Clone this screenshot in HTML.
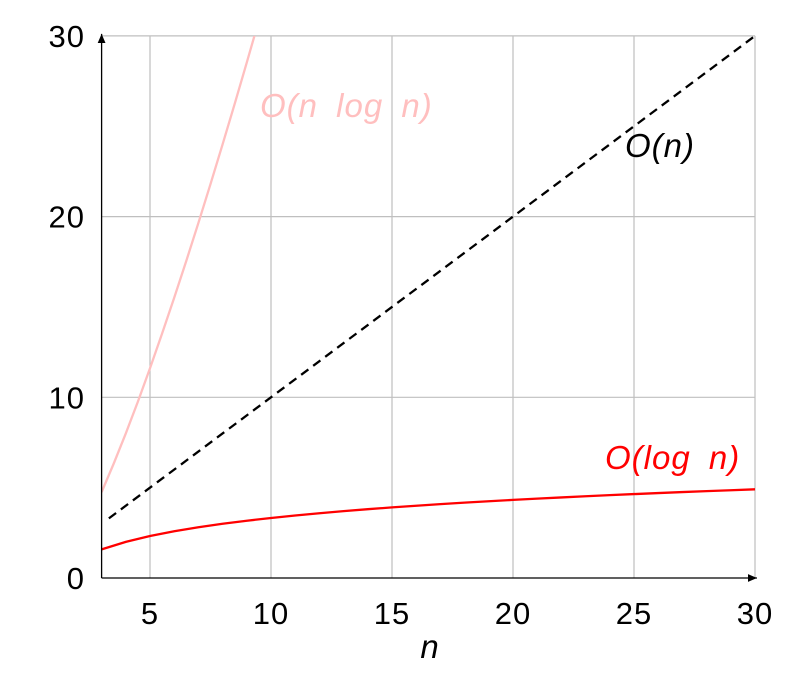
<!DOCTYPE html>
<html><head><meta charset="utf-8"><style>
body{margin:0;background:#fff;}
svg{display:block;font-family:"Liberation Sans","DejaVu Sans",sans-serif;}
</style></head><body>
<svg id="chart" width="793" height="673">
<defs><clipPath id="plotclip"><rect x="101" y="36" width="655" height="543"/></clipPath>
<marker id="arr" markerWidth="8" markerHeight="8" refX="7" refY="4" orient="auto"><path d="M0,1 L7,4 L0,7 Z" fill="#000"/></marker></defs>
<g id="grid"></g><g id="series" clip-path="url(#plotclip)"></g><g id="axes"></g><g id="labels"></g>
</svg>
<script>
const xTicks=[5,10,15,20,25,30];
const yTicks=[0,10,20,30];
const logN=[3,4,5,6,7,8,9,10,11,12,13,14,15,16,17,18,19,20,21,22,23,24,25,26,27,28,29,30];
const logVals=[1.585,2,2.322,2.585,2.807,3,3.17,3.322,3.459,3.585,3.7,3.807,3.907,4,4.087,4.17,4.248,4.322,4.392,4.459,4.524,4.585,4.644,4.7,4.755,4.807,4.858,4.907];
const nlogN=[3,3.5,4,4.5,5,5.5,6,6.5,7,7.5,8,8.5,9,9.5,10];
const nlogVals=[4.75,6.33,8,9.76,11.61,13.53,15.51,17.55,19.65,21.8,24,26.24,28.53,30.86,33.22];
const linN=[3.3,30];
const linVals=[3.3,30];
const X=v=>101.6+(v-3)*24.2;
const Y=v=>578-v*18.07;
const NS="http://www.w3.org/2000/svg";
function mk(p,t,a){const e=document.createElementNS(NS,t);for(const k in a)e.setAttribute(k,a[k]);p.appendChild(e);return e;}
const g=document.getElementById('grid'),s=document.getElementById('series'),ax=document.getElementById('axes'),lb=document.getElementById('labels');
xTicks.forEach(t=>{const l=mk(g,'line',{x1:X(t),x2:X(t),y1:Y(30),y2:Y(0),stroke:'#bfbfbf','stroke-width':1.2});


const tx=mk(lb,'text',{x:X(t),y:624,'font-size':31,'text-anchor':'middle','letter-spacing':1});tx.textContent=t;

});
yTicks.forEach(t=>{if(t>0){const l=mk(g,'line',{x1:X(3),x2:X(30),y1:Y(t),y2:Y(t),stroke:'#bfbfbf','stroke-width':1.2});

}
const tx=mk(lb,'text',{x:85,y:Y(t)+11,'font-size':31,'text-anchor':'end','letter-spacing':1});tx.textContent=t;

});
function line(xs,ys,attrs,name){const d=xs.map((x,i)=>(i?'L':'M')+X(x)+','+Y(ys[i])).join(' ');const p=mk(s,'path',Object.assign({d:d,fill:'none'},attrs));

}
line(nlogN,nlogVals,{stroke:'#ffbfbf','stroke-width':2.3},'n-log-n-line');
line(linN,linVals,{stroke:'#000','stroke-width':2.3,'stroke-dasharray':'9,6'},'linear-line');
line(logN,logVals,{stroke:'#ff0000','stroke-width':2.3},'log-n-line');
const xa=mk(ax,'line',{x1:X(3),x2:X(30)+2,y1:Y(0),y2:Y(0),stroke:'#000','stroke-width':1.3,'marker-end':'url(#arr)'});


const ya=mk(ax,'line',{x1:X(3),x2:X(3),y1:Y(0),y2:Y(30)-2,stroke:'#000','stroke-width':1.3,'marker-end':'url(#arr)'});


function lab(x,y,txt,col,name,anchor){const t=mk(lb,'text',{x:x,y:y,'font-size':33,'font-style':'italic',fill:col,'text-anchor':anchor||'start','letter-spacing':1,'word-spacing':8});t.textContent=txt;

}
lab(260,117,'O(n log n)','#ffbfbf','n-log-n-label');
lab(625,157,'O(n)','#000','linear-label');
lab(605,469,'O(log n)','#ff0000','log-n-label');
lab(430,658,'n','#000','x-axis-title','middle');
</script>
</body></html>
